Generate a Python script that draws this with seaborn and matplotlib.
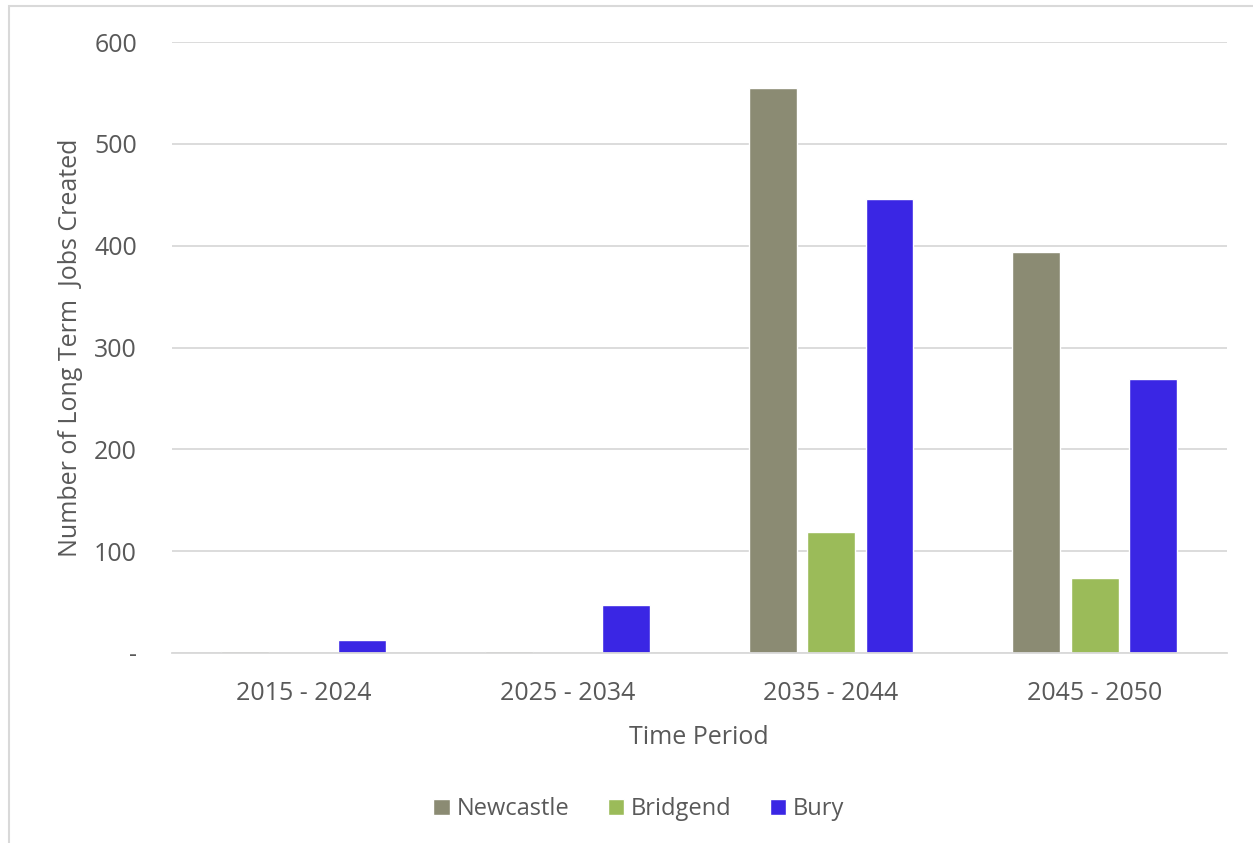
import numpy as np
import pandas as pd
import matplotlib.pyplot as plt
import seaborn as sns
from matplotlib.patches import Rectangle

# Data
periods = ["2015 - 2024", "2025 - 2034", "2035 - 2044", "2045 - 2050"]
newcastle = [1.5, 2, 555, 394]
bridgend = [0, 0, 119, 74]
bury = [12.5, 47, 446, 269]

series_names = ["Newcastle", "Bridgend", "Bury"]
colours = ["#8b8b73", "#9bbb59", "#3a26e4"]

df = pd.DataFrame({
    "period": periods * 3,
    "site": [s for s in series_names for _ in periods],
    "jobs": newcastle + bridgend + bury,
})

sns.set_theme(style="white")
plt.rcParams['font.family'] = ['Open Sans', 'DejaVu Sans']
text_col = "#595959"

fig = plt.figure(figsize=(12.53, 8.43), dpi=100)
ax = fig.add_axes([0.137, 0.2254, 0.842, 0.7246])

sns.barplot(data=df, x="period", y="jobs", hue="site", order=periods,
            hue_order=series_names, palette=colours, width=0.665, gap=0.18,
            saturation=1, errorbar=None, ax=ax)

ax.set_ylim(0, 600)
ax.set_xlim(-0.5, 3.5)
ax.set_yticks(np.arange(0, 601, 100))
ax.set_yticklabels(["-"] + [str(v) for v in range(100, 601, 100)])
ax.yaxis.grid(True, color="#d9d9d9", linewidth=1.3)
ax.set_axisbelow(True)
for side in ["top", "right", "left"]:
    ax.spines[side].set_visible(False)
ax.spines["bottom"].set_color("#d9d9d9")
ax.spines["bottom"].set_linewidth(1.3)
ax.tick_params(axis="both", length=0, labelsize=18, colors=text_col)
ax.tick_params(axis="y", pad=25)
ax.tick_params(axis="x", pad=20)

ax.set_xlabel("Time Period", fontsize=18, color=text_col, labelpad=14)
ax.set_ylabel("Number of Long Term  Jobs Created", fontsize=18, color=text_col,
              labelpad=8)

ax.legend(loc="center", bbox_to_anchor=(0.443, -0.256), ncol=3, frameon=False,
          fontsize=17, labelcolor=text_col, handlelength=0.7, handleheight=0.7,
          handletextpad=0.3, columnspacing=1.6)

# light border round the chart area
fig.patches.append(Rectangle((0.007, -0.01), 1.0, 1.003, transform=fig.transFigure,
                             fill=False, edgecolor="#d9d9d9", linewidth=1.5))

fig.savefig("out.png", dpi=100)
